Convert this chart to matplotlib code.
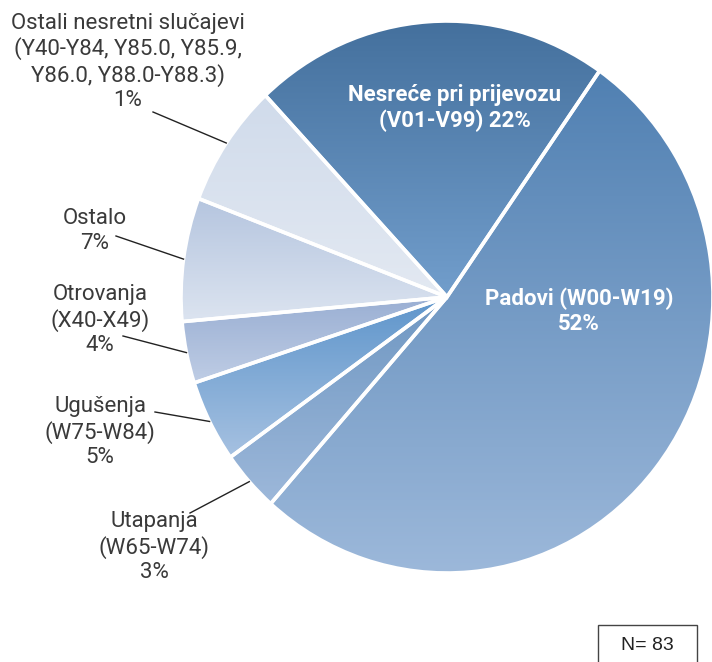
import matplotlib.pyplot as plt
import numpy as np
from matplotlib.colors import LinearSegmentedColormap
from matplotlib.patches import Rectangle

# slices in clockwise order, starting from "Padovi"
names = ['Padovi (W00-W19)', 'Utapanja\n(W65-W74)', 'Ugušenja\n(W75-W84)',
         'Otrovanja\n(X40-X49)', 'Ostalo', 'Ostali nesretni slučajevi\n(Y40-Y84, Y85.0, Y85.9,\nY86.0, Y88.0-Y88.3)',
         'Nesreće pri prijevozu\n(V01-V99)']
counts = [43, 3, 4, 3, 6, 6, 18]
pct_labels = ['52%', '3%', '5%', '4%', '7%', '1%', '22%']
n_total = 83

top_colors = ['#5080b2', '#6f97c2', '#5e95cb', '#9aafd3', '#b5c5df', '#d0dbeb', '#44709d']
bottom_colors = ['#9cb8da', '#9db8da', '#a6c1e1', '#bfcde5', '#dce4f0', '#e3e9f2', '#729ecc']

# label anchors (pixel coords) and leader start points; None = inside label
label_pos = [(579, 311), (154, 547), (100, 432), (100, 320), (95, 231), (128, 62), (455, 108)]
leader_start = [None, (190, 513), (155, 412), (123, 336), (116, 236), (153, 112), None]

plt.rcParams['font.family'] = ['Roboto', 'DejaVu Sans']

fig = plt.figure(figsize=(7.12, 6.62), dpi=100)
ax = fig.add_axes([0, 0, 1, 1])
wedges, _ = ax.pie(counts, startangle=55, counterclock=False, radius=1,
                   wedgeprops=dict(edgecolor='white', linewidth=2.6, facecolor='none'))
for w in wedges:
    w.set_zorder(3)

# vertical gradient inside every wedge
grad = np.linspace(0, 1, 256).reshape(-1, 1)
for w, c0, c1 in zip(wedges, top_colors, bottom_colors):
    ang = np.radians(np.linspace(w.theta1, w.theta2, 200))
    xs = np.append(np.cos(ang), 0)
    ys = np.append(np.sin(ang), 0)
    cmap = LinearSegmentedColormap.from_list('g', [c0, c1])
    im = ax.imshow(grad, extent=(xs.min(), xs.max(), ys.min(), ys.max()),
                   origin='upper', cmap=cmap, aspect='auto', zorder=2)
    im.set_clip_path(w)

# the pie in the reference is slightly stretched vertically
ax.set_aspect('auto')
ax.set_xlim(-447 / 266, 265 / 266)
ax.set_ylim(-365 / 276, 297 / 276)
ax.axis('off')

# overlay in pixel coordinates for labels
ax2 = fig.add_axes([0, 0, 1, 1], facecolor='none')
ax2.set_xlim(0, 712)
ax2.set_ylim(662, 0)
ax2.axis('off')

text_col = '#3a3a3a'
for i, w in enumerate(wedges):
    x, y = label_pos[i]
    if leader_start[i] is None:
        ax2.text(x, y, f'{names[i]} {pct_labels[i]}' if i == 6 else f'{names[i]}\n{pct_labels[i]}',
                 ha='center', va='center', color='white', fontsize=16,
                 fontweight='bold', linespacing=1.2, zorder=5)
        continue
    ax2.text(x, y, f'{names[i]}\n{pct_labels[i]}', ha='center', va='center',
             color=text_col, fontsize=16, linespacing=1.2, zorder=5)
    mid = np.radians((w.theta1 + w.theta2) / 2)
    end = ax.transData.transform((np.cos(mid), np.sin(mid)))
    ex, ey = ax2.transData.inverted().transform(end)
    sx, sy = leader_start[i]
    ax2.plot([sx, ex], [sy, ey], color='#222222', lw=1.0, zorder=5)

ax2.add_patch(Rectangle((598, 625), 99, 50, facecolor='white', edgecolor='#444444', lw=1.0))
ax2.text(647, 645, f'N= {n_total}', ha='center', va='center', color='#222222',
         fontsize=14, family='Liberation Sans')

fig.savefig('out.png', dpi=100)
